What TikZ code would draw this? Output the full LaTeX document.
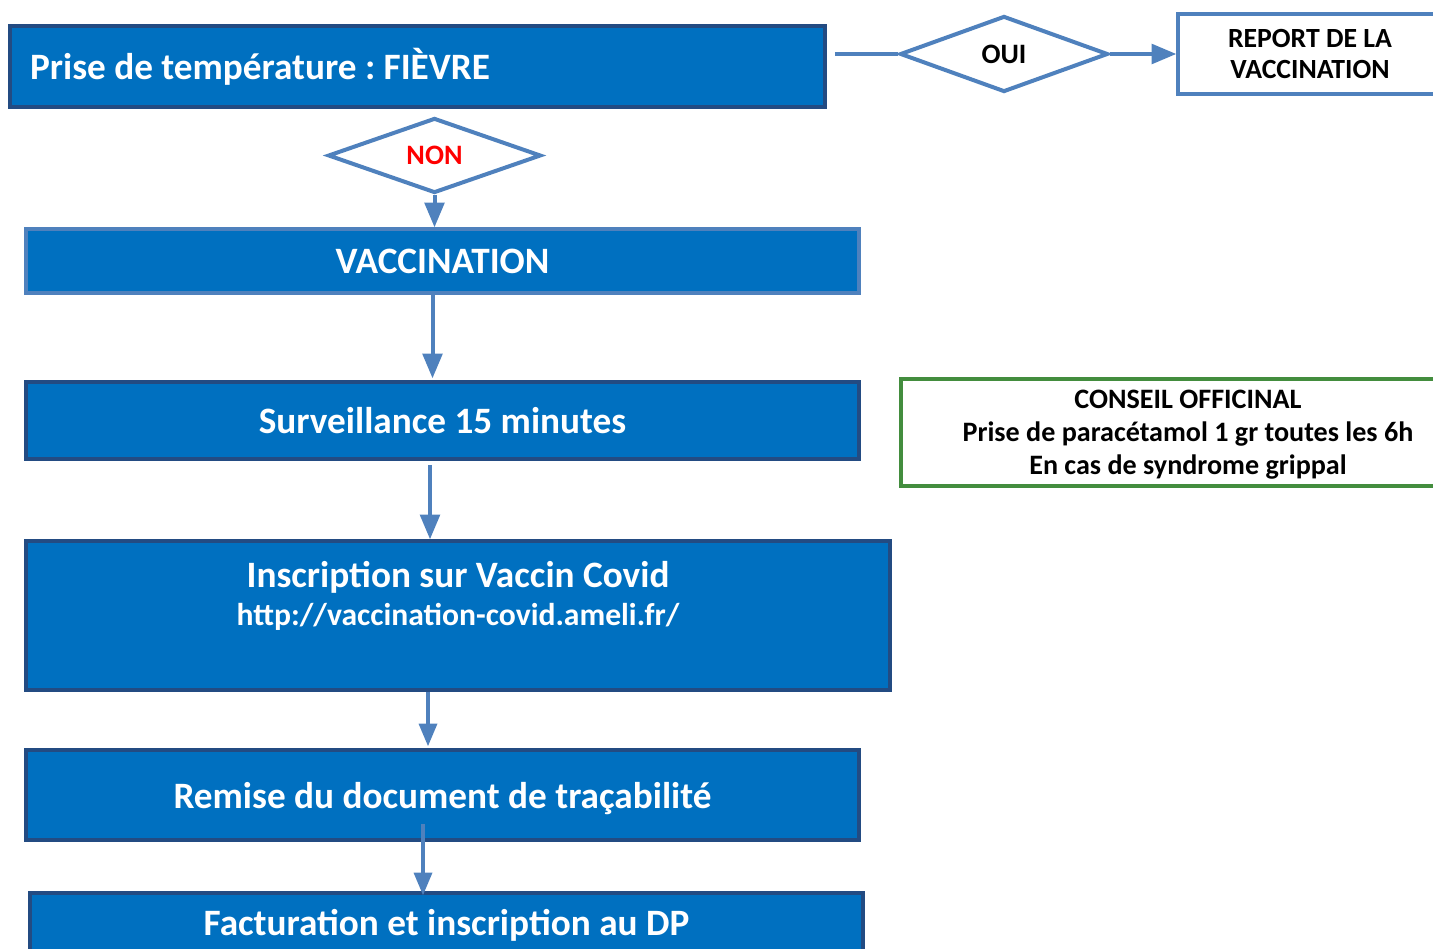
\documentclass[tikz,border=0pt]{standalone}
\usepackage{fontspec}
\setmainfont{Carlito}
\usetikzlibrary{shapes,arrows,positioning}
\definecolor{fillblue}{HTML}{0070C0}
\definecolor{darkedge}{HTML}{234B82}
\definecolor{lightedge}{HTML}{4F81BD}
\definecolor{greenedge}{HTML}{438D3E}
\frenchspacing

\begin{document}
\begin{tikzpicture}[x=0.02cm, y=-0.02cm]

% Define styles
\tikzstyle{box} = [rectangle, draw=darkedge, line width=0.08cm, fill=fillblue, text=white, inner sep=0pt, font=\fontsize{21.2}{24}\selectfont\bfseries]
\tikzstyle{whitebox} = [rectangle, draw=lightedge, line width=0.08cm, fill=white, align=center, inner sep=0pt, font=\fontsize{15.8}{18}\selectfont\bfseries]
\tikzstyle{decision} = [diamond, draw=lightedge, line width=0.08cm, fill=white, inner sep=0pt, minimum width=4.16cm, minimum height=1.52cm, font=\fontsize{16}{19}\selectfont\bfseries]
\tikzstyle{arrow} = [draw=lightedge, line width=0.08cm, ->, >=triangle 45]

\useasboundingbox (0,0) rectangle (1433,949);

% Nodes
\node [box, minimum width=16.3cm, minimum height=1.62cm, text width=15.5cm, align=flush left] (fever) at (417.5,66.5) {Prise de température : FIÈVRE};
\node [decision, minimum width=4.26cm, minimum height=1.5cm] (non) at (434.5,155.5) {\textcolor{red}{NON}};
\node [box, draw=lightedge, minimum width=16.66cm, minimum height=1.28cm] (vaccination) at (442.5,261) {VACCINATION};
\node [box, minimum width=16.66cm, minimum height=1.54cm] (surveillance) at (442.5,420.5) {Surveillance 15 minutes};
\node [box, minimum width=17.28cm, minimum height=2.98cm] (inscription) at (458,615.5) {};
\node [below=0.44cm of inscription.north, align=center, text=white, inner sep=0pt, font=\fontsize{21.2}{23}\selectfont\bfseries] (inscription_txt) {Inscription sur Vaccin Covid\\[-1.5pt]{\fontsize{18}{22}\selectfont http://vaccination-covid.ameli.fr/}};
\node [box, minimum width=16.66cm, minimum height=1.8cm, text depth=0cm] (remise) at (442.5,795) {Remise du document de traçabilité};
\node [box, minimum width=16.66cm, minimum height=1.28cm] (facturation) at (446.5,925) {Facturation et inscription au DP};

% Right side
\node [decision] (oui) at (1004,54) {OUI};
\node [whitebox, minimum width=5.28cm, minimum height=1.6cm] (report) at (1310,54) {REPORT DE LA\\VACCINATION};
\node [whitebox, draw=greenedge, minimum width=11.48cm, minimum height=2.14cm, text depth=0cm, font=\fontsize{16}{18.8}\selectfont\bfseries] (conseil) at (1188,432.5) {CONSEIL OFFICINAL\\Prise de paracétamol 1 gr toutes les 6h\\En cas de syndrome grippal};

% Arrows
\draw [arrow, -] ([xshift=0.16cm]fever.east |- oui.west) -- (oui.west);
\draw [arrow] (oui.east) -- (report.west);
\draw [arrow] (non.south) -- (non.south |- vaccination.north);
\draw [arrow] ([xshift=-0.2cm]vaccination.south) -- ([xshift=-0.2cm,yshift=0.04cm]surveillance.north);
\draw [arrow] ([xshift=-0.25cm,yshift=-0.08cm]surveillance.south) -- ([xshift=-0.25cm]surveillance.south |- inscription.north);
\draw [arrow, line width=0.07cm] ([xshift=-0.6cm]inscription.south) -- ([xshift=-0.6cm,yshift=0.04cm]inscription.south |- remise.north);
\draw [arrow, line width=0.07cm] ([xshift=-0.39cm,yshift=0.36cm]remise.south) -- ([xshift=-0.39cm,yshift=-0.08cm]remise.south |- facturation.north);

\end{tikzpicture}
\end{document}
